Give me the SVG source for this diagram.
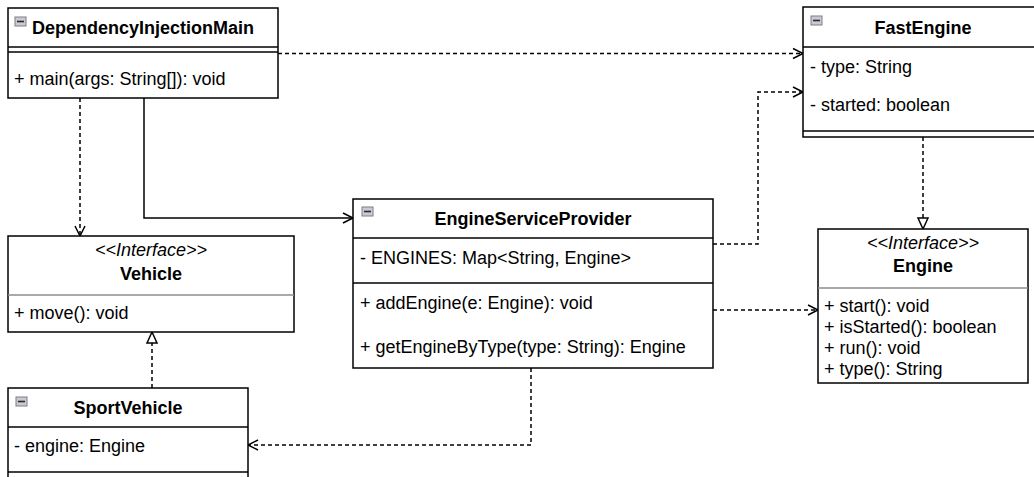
<svg xmlns="http://www.w3.org/2000/svg" width="1034" height="477" viewBox="0 0 1034 477">
<style>
  .box { fill: #ffffff; stroke: #000000; stroke-width: 1.5; }
  .sep { stroke: #000000; stroke-width: 1.5; fill: none; }
  .isep { stroke: #8c8c8c; stroke-width: 1.5; fill: none; }
  text { font-family: "Liberation Sans", Arial, Helvetica, sans-serif; font-size: 18px; fill: #000000; }
  .title { font-weight: bold; text-anchor: middle; }
  .stereo { font-style: italic; text-anchor: middle; }
  .icon { fill: #c9cad2; stroke: #7e7e86; stroke-width: 1; }
  .iconbar { stroke: #2a2a2a; stroke-width: 1.6; }
  .edge { fill: none; stroke: #000000; stroke-width: 1.5; }
  .dash { stroke-dasharray: 4 3; }
</style>
<defs>
  <marker id="open" markerUnits="userSpaceOnUse" markerWidth="12" markerHeight="12" refX="10" refY="5" orient="auto" viewBox="0 0 12 12" overflow="visible">
    <path d="M0,0 L10,5 L0,10" fill="none" stroke="#000" stroke-width="1.5"/>
  </marker>
  <marker id="tri" markerUnits="userSpaceOnUse" markerWidth="14" markerHeight="14" refX="11" refY="5" orient="auto" viewBox="0 0 14 14" overflow="visible">
    <path d="M0,0 L11,5 L0,10 Z" fill="#fff" stroke="#000" stroke-width="1.5"/>
  </marker>
  <g id="collapse">
    <rect class="icon" x="0" y="0" width="11" height="9"/>
    <line class="iconbar" x1="2" y1="4.5" x2="9" y2="4.5"/>
  </g>
</defs>

<g id="connectors">
  <path class="edge dash" d="M278,53.5 L803,53.5" marker-end="url(#open)"/>
  <path class="edge dash" d="M80,98 L80,236" marker-end="url(#open)"/>
  <path class="edge" d="M144,98 L144,218 L353,218" marker-end="url(#open)"/>
  <path class="edge dash" d="M713,244 L758,244 L758,92 L803,92" marker-end="url(#open)"/>
  <path class="edge dash" d="M713,310 L818,310" marker-end="url(#open)"/>
  <path class="edge dash" d="M923,137 L923,229" marker-end="url(#tri)"/>
  <path class="edge dash" d="M152,388 L152,332" marker-end="url(#tri)"/>
  <path class="edge dash" d="M531,368 L531,445 L248,445" marker-end="url(#open)"/>
</g>

<g id="DependencyInjectionMain">
  <rect class="box" x="8" y="8" width="270" height="90"/>
  <line class="sep" x1="8" y1="47" x2="278" y2="47"/>
  <line class="sep" x1="8" y1="52" x2="278" y2="52"/>
  <use href="#collapse" x="15" y="17"/>
  <text class="title" x="143" y="34">DependencyInjectionMain</text>
  <text x="14" y="85">+ main(args: String[]): void</text>
</g>

<g id="FastEngine">
  <rect class="box" x="803" y="7" width="240" height="130"/>
  <line class="sep" x1="803" y1="47" x2="1043" y2="47"/>
  <line class="sep" x1="803" y1="131" x2="1043" y2="131"/>
  <use href="#collapse" x="811" y="16"/>
  <text class="title" x="923" y="34">FastEngine</text>
  <text x="810" y="73">- type: String</text>
  <text x="810" y="111">- started: boolean</text>
</g>

<g id="EngineServiceProvider">
  <rect class="box" x="353" y="199" width="360" height="169"/>
  <line class="sep" x1="353" y1="238" x2="713" y2="238"/>
  <line class="sep" x1="353" y1="283" x2="713" y2="283"/>
  <use href="#collapse" x="362" y="207"/>
  <text class="title" x="533" y="225">EngineServiceProvider</text>
  <text x="360" y="264">- ENGINES: Map&lt;String, Engine&gt;</text>
  <text x="360" y="309">+ addEngine(e: Engine): void</text>
  <text x="360" y="353">+ getEngineByType(type: String): Engine</text>
</g>

<g id="Vehicle">
  <rect class="box" x="8" y="236" width="286" height="96"/>
  <line class="isep" x1="8" y1="295" x2="294" y2="295"/>
  <text class="stereo" x="151" y="256">&lt;&lt;Interface&gt;&gt;</text>
  <text class="title" x="151" y="280">Vehicle</text>
  <text x="14" y="319">+ move(): void</text>
</g>

<g id="Engine">
  <rect class="box" x="818" y="229" width="210" height="154"/>
  <line class="isep" x1="818" y1="288" x2="1028" y2="288"/>
  <text class="stereo" x="923" y="249">&lt;&lt;Interface&gt;&gt;</text>
  <text class="title" x="923" y="272">Engine</text>
  <text x="824" y="312">+ start(): void</text>
  <text x="824" y="333">+ isStarted(): boolean</text>
  <text x="824" y="354">+ run(): void</text>
  <text x="824" y="375">+ type(): String</text>
</g>

<g id="SportVehicle">
  <rect class="box" x="8" y="388" width="240" height="120"/>
  <line class="sep" x1="8" y1="427" x2="248" y2="427"/>
  <line class="sep" x1="8" y1="472" x2="248" y2="472"/>
  <use href="#collapse" x="16" y="397"/>
  <text class="title" x="128" y="414">SportVehicle</text>
  <text x="14" y="452">- engine: Engine</text>
</g>
</svg>
